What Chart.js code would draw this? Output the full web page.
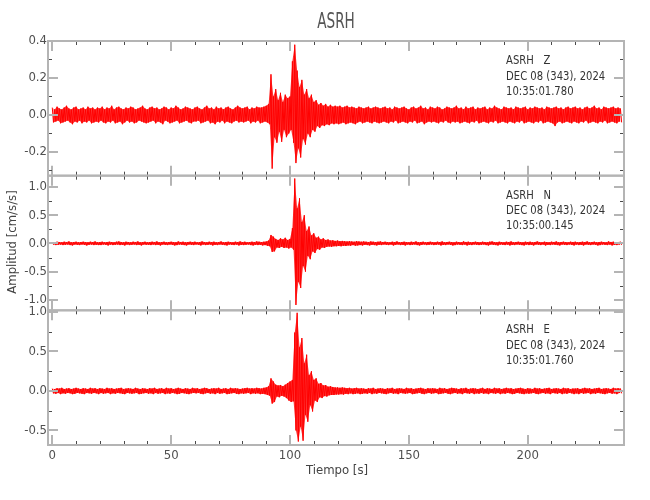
<!DOCTYPE html>
<html><head><meta charset="utf-8">
<script src="https://cdn.jsdelivr.net/npm/chart.js@4"></script>
<style>html,body{margin:0;padding:0;background:#fff}</style>
</head><body>
<canvas id="c" width="650" height="500"></canvas>
<script>
const stationName = 'ASRH';
const components = ['Z', 'N', 'E'];
const dateLabel = 'DEC 08 (343), 2024';
const startTimes = ['10:35:01.780', '10:35:00.145', '10:35:01.760'];
const xTitle = 'Tiempo [s]';
const yTitle = 'Amplitud [cm/s/s]';
const timeRange = [-1.8, 240.5];
const xMajorTicks = [0, 50, 100, 150, 200];
const xMinorTicks = [10,20,30,40,60,70,80,90,110,120,130,140,160,170,180,190,210,220,230,240];
const zRange = [-0.328, 0.4], nRange = [-1.185, 1.2], eRange = [-0.684, 1.021];
const zTicks = [-0.2, 0, 0.2, 0.4], zMinor = [-0.3, -0.1, 0.1, 0.3];
const nTicks = [-1, -0.5, 0, 0.5, 1], nMinor = [-0.75, -0.25, 0.25, 0.75];
const eTicks = [-0.5, 0, 0.5, 1], eMinor = [-0.25, 0.25, 0.75];
const sampleStep = 1; // seconds between successive peak/trough pairs

// Z component: upper and lower envelope per second
const zHi = [
.04,.03,.045,.035,.03,.04,.05,.035,.03,.04,.045,.03,.035,.04,.03,.045,.035,.04,.03,.04,
.035,.045,.03,.04,.035,.05,.03,.04,.045,.035,.03,.04,.035,.045,.04,.03,.035,.04,.05,.035,
.03,.04,.045,.035,.04,.03,.035,.045,.04,.03,.04,.035,.05,.04,.03,.035,.045,.04,.035,.03,
.04,.045,.035,.03,.04,.05,.035,.04,.03,.045,.035,.04,.03,.04,.045,.035,.03,.04,.05,.04,
.035,.04,.045,.03,.04,.035,.045,.04,.04,.045,.05,.06,.22,.10,.14,.08,.12,.07,.11,.09,
.10,.29,.38,.24,.15,.19,.11,.14,.09,.11,.07,.08,.055,.065,.05,.06,.045,.055,.045,.05,
.045,.05,.04,.045,.05,.04,.045,.04,.035,.045,.04,.035,.04,.045,.035,.04,.045,.04,.035,.04,
.045,.035,.04,.03,.045,.04,.035,.04,.045,.035,.03,.04,.045,.035,.04,.05,.035,.04,.03,.045,
.04,.035,.045,.04,.03,.035,.045,.04,.035,.04,.05,.035,.04,.03,.045,.035,.04,.045,.03,.04,
.035,.04,.045,.03,.04,.035,.05,.04,.035,.03,.045,.04,.035,.04,.03,.045,.04,.035,.04,.045,
.03,.04,.035,.045,.04,.035,.04,.03,.045,.04,.035,.04,.045,.035,.04,.03,.04,.045,.035,.04,
.045,.035,.04,.03,.04,.045,.035,.04,.05,.035,.04,.03,.045,.04,.035,.04,.045,.035,.04,.035];
const zLo = [
-.04,-.035,-.03,-.045,-.04,-.035,-.03,-.04,-.05,-.035,-.04,-.03,-.045,-.035,-.04,-.03,-.045,-.04,-.035,-.04,
-.03,-.04,-.045,-.035,-.04,-.03,-.045,-.04,-.035,-.05,-.04,-.03,-.04,-.035,-.045,-.04,-.03,-.035,-.04,-.045,
-.04,-.035,-.03,-.045,-.035,-.04,-.05,-.03,-.035,-.045,-.04,-.035,-.03,-.045,-.04,-.035,-.03,-.04,-.045,-.035,
-.035,-.03,-.045,-.04,-.035,-.03,-.045,-.04,-.05,-.035,-.04,-.03,-.045,-.035,-.04,-.045,-.035,-.03,-.04,-.035,
-.04,-.035,-.03,-.045,-.035,-.04,-.03,-.045,-.04,-.035,-.04,-.05,-.29,-.12,-.15,-.09,-.145,-.08,-.12,-.10,
-.08,-.15,-.26,-.18,-.23,-.13,-.16,-.10,-.12,-.08,-.09,-.06,-.07,-.055,-.06,-.05,-.055,-.045,-.05,-.045,
-.05,-.045,-.04,-.05,-.045,-.04,-.045,-.05,-.04,-.035,-.045,-.04,-.035,-.04,-.045,-.035,-.04,-.045,-.04,-.035,
-.04,-.045,-.035,-.04,-.03,-.045,-.04,-.035,-.04,-.045,-.035,-.04,-.03,-.045,-.04,-.035,-.05,-.04,-.035,-.04,
-.035,-.04,-.045,-.035,-.04,-.03,-.04,-.045,-.035,-.04,-.035,-.045,-.04,-.035,-.04,-.045,-.035,-.04,-.03,-.045,
-.04,-.035,-.04,-.045,-.035,-.04,-.03,-.045,-.04,-.035,-.04,-.045,-.035,-.04,-.045,-.035,-.04,-.03,-.045,-.04,
-.035,-.04,-.045,-.035,-.04,-.03,-.045,-.04,-.035,-.04,-.045,-.06,-.04,-.035,-.045,-.04,-.035,-.04,-.045,-.035,
-.04,-.045,-.035,-.04,-.03,-.045,-.04,-.035,-.04,-.045,-.035,-.04,-.03,-.045,-.04,-.035,-.04,-.045,-.035,-.04];

// N component
const nHi = [
.025,.02,.03,.025,.02,.03,.025,.035,.02,.025,.03,.02,.025,.03,.025,.02,.03,.025,.035,.02,
.025,.03,.02,.025,.03,.025,.02,.03,.035,.025,.02,.03,.025,.02,.03,.025,.035,.02,.025,.03,
.02,.025,.03,.025,.035,.02,.025,.03,.02,.025,.03,.025,.02,.035,.025,.03,.02,.025,.03,.025,
.03,.02,.025,.035,.025,.02,.03,.025,.03,.02,.025,.035,.02,.025,.03,.025,.02,.03,.025,.035,
.025,.03,.02,.025,.03,.025,.035,.03,.025,.03,.035,.05,.15,.12,.08,.06,.09,.07,.10,.06,
.08,.27,1.15,.62,.80,.38,.50,.22,.30,.14,.18,.10,.12,.07,.09,.06,.07,.05,.055,.045,
.05,.04,.045,.04,.035,.04,.035,.03,.04,.035,.03,.035,.03,.025,.035,.03,.025,.03,.035,.025,
.03,.025,.02,.03,.025,.035,.02,.025,.03,.025,.02,.03,.025,.035,.02,.025,.03,.02,.025,.03,
.025,.02,.03,.025,.035,.02,.025,.03,.025,.02,.03,.025,.02,.035,.025,.03,.02,.025,.03,.025,
.02,.03,.025,.02,.03,.035,.025,.02,.03,.025,.02,.03,.025,.035,.02,.025,.03,.025,.02,.03,
.025,.03,.02,.025,.035,.025,.02,.03,.025,.02,.03,.025,.035,.02,.025,.03,.025,.02,.03,.025,
.03,.02,.025,.03,.025,.035,.02,.025,.03,.02,.025,.03,.025,.02,.035,.025,.03,.02,.025,.03];
const nLo = [
-.02,-.03,-.025,-.02,-.03,-.025,-.02,-.03,-.035,-.02,-.025,-.03,-.02,-.025,-.035,-.025,-.02,-.03,-.025,-.03,
-.03,-.02,-.025,-.035,-.02,-.03,-.025,-.02,-.03,-.025,-.035,-.02,-.03,-.025,-.02,-.03,-.025,-.035,-.02,-.025,
-.025,-.03,-.02,-.03,-.025,-.035,-.02,-.025,-.03,-.02,-.025,-.035,-.03,-.02,-.025,-.03,-.035,-.02,-.025,-.03,
-.02,-.025,-.035,-.02,-.03,-.025,-.02,-.035,-.025,-.03,-.02,-.025,-.03,-.035,-.02,-.025,-.03,-.02,-.035,-.025,
-.03,-.025,-.02,-.03,-.035,-.025,-.03,-.025,-.035,-.03,-.04,-.05,-.15,-.14,-.07,-.08,-.06,-.08,-.07,-.09,
-.07,-.11,-1.09,-.68,-.79,-.40,-.50,-.22,-.28,-.14,-.17,-.10,-.11,-.07,-.08,-.06,-.055,-.06,-.05,-.05,
-.045,-.05,-.04,-.045,-.035,-.04,-.03,-.04,-.035,-.03,-.035,-.025,-.03,-.035,-.025,-.03,-.035,-.025,-.03,-.02,
-.025,-.03,-.02,-.035,-.025,-.02,-.03,-.025,-.035,-.02,-.03,-.025,-.02,-.03,-.035,-.025,-.02,-.03,-.025,-.02,
-.03,-.025,-.02,-.035,-.025,-.03,-.02,-.025,-.035,-.03,-.02,-.025,-.03,-.02,-.035,-.025,-.03,-.02,-.025,-.03,
-.025,-.02,-.03,-.035,-.02,-.025,-.03,-.035,-.02,-.025,-.03,-.02,-.035,-.025,-.03,-.02,-.025,-.03,-.035,-.02,
-.03,-.025,-.035,-.02,-.025,-.03,-.02,-.035,-.025,-.03,-.02,-.025,-.03,-.035,-.02,-.025,-.03,-.02,-.025,-.035,
-.02,-.03,-.025,-.035,-.02,-.025,-.03,-.02,-.025,-.035,-.03,-.02,-.025,-.03,-.02,-.035,-.025,-.03,-.02,-.025];

// E component
const eHi = [
.03,.025,.035,.03,.04,.025,.03,.035,.025,.03,.04,.03,.025,.035,.03,.025,.04,.03,.035,.025,
.035,.03,.025,.04,.03,.035,.025,.03,.035,.04,.025,.03,.035,.03,.025,.04,.03,.025,.035,.03,
.025,.035,.03,.04,.025,.03,.035,.025,.04,.03,.035,.025,.03,.04,.03,.025,.035,.03,.025,.04,
.03,.035,.025,.03,.04,.035,.025,.03,.035,.03,.04,.025,.03,.035,.025,.04,.03,.035,.03,.025,
.03,.035,.04,.03,.035,.03,.04,.035,.03,.04,.045,.06,.16,.12,.08,.07,.076,.06,.08,.10,
.12,.14,.74,.99,.55,.67,.35,.46,.20,.25,.14,.16,.09,.10,.07,.075,.055,.06,.05,.045,
.045,.04,.045,.04,.035,.04,.03,.035,.04,.03,.035,.03,.025,.035,.03,.04,.025,.03,.035,.03,
.025,.035,.03,.04,.025,.03,.035,.03,.025,.04,.03,.035,.025,.03,.035,.04,.03,.025,.035,.03,
.035,.03,.025,.04,.03,.035,.025,.03,.04,.035,.03,.025,.035,.03,.04,.025,.03,.035,.03,.025,
.03,.04,.025,.035,.03,.025,.04,.03,.035,.025,.03,.04,.03,.035,.025,.03,.035,.04,.03,.025,
.035,.03,.025,.04,.03,.035,.025,.03,.035,.04,.025,.03,.035,.03,.025,.04,.03,.035,.025,.03,
.03,.035,.025,.03,.04,.03,.035,.025,.03,.035,.04,.025,.03,.035,.03,.025,.04,.03,.035,.03];
const eLo = [
-.03,-.035,-.025,-.04,-.03,-.035,-.025,-.03,-.04,-.035,-.025,-.03,-.035,-.04,-.025,-.03,-.035,-.025,-.03,-.04,
-.025,-.035,-.03,-.025,-.04,-.03,-.035,-.025,-.03,-.035,-.04,-.025,-.03,-.035,-.03,-.025,-.04,-.035,-.03,-.025,
-.035,-.03,-.04,-.025,-.035,-.03,-.025,-.04,-.03,-.035,-.025,-.03,-.04,-.035,-.025,-.03,-.035,-.04,-.03,-.025,
-.03,-.025,-.035,-.04,-.03,-.025,-.035,-.03,-.04,-.025,-.035,-.03,-.025,-.04,-.035,-.03,-.025,-.035,-.04,-.03,
-.035,-.03,-.025,-.04,-.03,-.035,-.03,-.04,-.035,-.04,-.05,-.06,-.16,-.14,-.07,-.08,-.06,-.07,-.09,-.12,
-.14,-.13,-.50,-.64,-.45,-.63,-.30,-.39,-.18,-.26,-.12,-.14,-.08,-.09,-.065,-.07,-.055,-.05,-.05,-.045,
-.045,-.04,-.045,-.035,-.04,-.03,-.04,-.035,-.03,-.04,-.035,-.03,-.035,-.025,-.04,-.03,-.035,-.025,-.03,-.035,
-.04,-.03,-.025,-.035,-.03,-.04,-.025,-.03,-.035,-.03,-.025,-.04,-.035,-.03,-.025,-.035,-.04,-.03,-.025,-.035,
-.03,-.025,-.04,-.035,-.03,-.025,-.035,-.04,-.03,-.025,-.035,-.03,-.04,-.025,-.03,-.035,-.025,-.04,-.03,-.035,
-.025,-.035,-.03,-.04,-.025,-.03,-.035,-.025,-.04,-.03,-.035,-.025,-.03,-.04,-.035,-.025,-.03,-.035,-.04,-.03,
-.035,-.03,-.025,-.035,-.04,-.03,-.025,-.035,-.03,-.04,-.025,-.03,-.035,-.025,-.04,-.03,-.035,-.025,-.03,-.04,
-.03,-.04,-.025,-.035,-.03,-.025,-.04,-.03,-.035,-.025,-.03,-.035,-.04,-.03,-.025,-.035,-.03,-.04,-.025,-.03];

const FONT = '"Liberation Sans Narrow", "DejaVu Sans Condensed", "Arial Narrow", sans-serif';
const AXIS = '#b4b4b4', MINOR = '#4a4a4a', TXT = '#505050';

function buildTrace(hi, lo) {
  const pts = [];
  for (let i = 0; i < hi.length; i++) {
    pts.push({x: i * sampleStep, y: hi[i]});
    pts.push({x: i * sampleStep + sampleStep / 2, y: lo[i]});
  }
  return pts;
}
const buildUpper = hi => hi.map((v, i) => ({x: i * sampleStep, y: v}));
const buildLower = lo => lo.map((v, i) => ({x: i * sampleStep + sampleStep / 2, y: v}));

const panels = [
  {id: 'yZ', range: zRange, ticks: zTicks, minor: zMinor, hi: zHi, lo: zLo, weight: 3},
  {id: 'yN', range: nRange, ticks: nTicks, minor: nMinor, hi: nHi, lo: nLo, weight: 2},
  {id: 'yE', range: eRange, ticks: eTicks, minor: eMinor, hi: eHi, lo: eLo, weight: 1}
];

const scales = {
  x: {
    type: 'linear', position: 'bottom', min: timeRange[0], max: timeRange[1],
    grid: {display: false, drawTicks: false}, border: {display: false},
    afterBuildTicks: s => { s.ticks = xMajorTicks.map(v => ({value: v})); },
    afterFit: s => { s.height = 55; },
    ticks: {autoSkip: false, maxRotation: 0, padding: 3, color: TXT, font: {family: FONT, size: 13},
            callback: v => String(v)}
  }
};
panels.forEach(p => {
  scales[p.id] = {
    type: 'linear', position: 'left', stack: 'panels', stackWeight: 1, weight: p.weight,
    min: p.range[0], max: p.range[1],
    grid: {display: false, drawTicks: false}, border: {display: false},
    afterBuildTicks: s => { s.ticks = p.ticks.map(v => ({value: v})); },
    afterFit: s => { s.width = 48; },
    ticks: {autoSkip: false, padding: 1, color: TXT, font: {family: FONT, size: 13},
            callback: v => Number(v).toFixed(1)}
  };
});

const framePlugin = {
  id: 'frames',
  afterDraw(chart) {
    const ctx = chart.ctx, xs = chart.scales.x;
    const left = chart.chartArea.left, right = chart.chartArea.right;
    ctx.save();
    panels.forEach((p, i) => {
      const ys = chart.scales[p.id];
      const top = ys.top, bottom = ys.bottom;
      const xt = (v, len, major) => {
        const px = Math.round(xs.getPixelForValue(v)) + (major ? 0 : 0.5);
        ctx.beginPath();
        ctx.moveTo(px, bottom); ctx.lineTo(px, bottom - len);
        ctx.moveTo(px, top); ctx.lineTo(px, top + len);
        ctx.stroke();
      };
      ctx.strokeStyle = MINOR; ctx.lineWidth = 1;
      xMinorTicks.forEach(v => xt(v, 4, false));
      ctx.strokeStyle = AXIS; ctx.lineWidth = 2;
      xMajorTicks.forEach(v => xt(v, 10, true));
      const yt = (v, len, major) => {
        const py = Math.round(ys.getPixelForValue(v)) + (major ? 0 : 0.5);
        ctx.beginPath();
        ctx.moveTo(left, py); ctx.lineTo(left + len, py);
        ctx.moveTo(right, py); ctx.lineTo(right - len, py);
        ctx.stroke();
      };
      ctx.strokeStyle = MINOR; ctx.lineWidth = 1;
      p.minor.forEach(v => yt(v, 4, false));
      ctx.strokeStyle = AXIS; ctx.lineWidth = 2;
      p.ticks.forEach(v => yt(v, 10, true));
      ctx.strokeRect(left, top, right - left, bottom - top);
      // station annotation
      ctx.fillStyle = '#333';
      ctx.font = '12px ' + FONT;
      ctx.textAlign = 'left'; ctx.textBaseline = 'middle';
      const tx = xs.getPixelForValue(190.9);
      const lines = [stationName + '   ' + components[i], dateLabel, startTimes[i]];
      const offs = [20, 35.5, 50.5];
      lines.forEach((s, k) => {
        ctx.save();
        ctx.translate(tx, top + offs[k]);
        ctx.scale(0.93, 1);
        ctx.fillText(s, 0, 0);
        ctx.restore();
      });
    });
    ctx.fillStyle = '#555';
    ctx.textAlign = 'center'; ctx.textBaseline = 'middle';
    ctx.save();
    ctx.translate((left + right) / 2, 23);
    ctx.scale(0.72, 1);
    ctx.font = '21px ' + FONT;
    ctx.fillText(stationName, 0, 0);
    ctx.restore();
    ctx.fillStyle = '#444';
    ctx.font = '13px ' + FONT;
    ctx.fillText(xTitle, (left + right) / 2 + 1, 471);
    ctx.save();
    const yN = chart.scales.yN;
    ctx.translate(13, (yN.top + yN.bottom) / 2 - 1);
    ctx.rotate(-Math.PI / 2);
    ctx.fillText(yTitle, 0, 0);
    ctx.restore();
    ctx.restore();
  }
};

const datasets = [];
panels.forEach((p, i) => {
  datasets.push({
    label: components[i], data: buildTrace(p.hi, p.lo), yAxisID: p.id, xAxisID: 'x',
    borderColor: '#ff0000', borderWidth: 1, pointRadius: 0, tension: 0, fill: false
  });
  datasets.push({
    label: components[i] + ' upper', data: buildUpper(p.hi), yAxisID: p.id, xAxisID: 'x',
    borderColor: 'rgba(255,0,0,0)', borderWidth: 0, pointRadius: 0, tension: 0,
    fill: '+1', backgroundColor: 'rgba(255,0,0,0.8)'
  });
  datasets.push({
    label: components[i] + ' lower', data: buildLower(p.lo), yAxisID: p.id, xAxisID: 'x',
    borderColor: 'rgba(255,0,0,0)', borderWidth: 0, pointRadius: 0, tension: 0, fill: false
  });
});

new Chart(document.getElementById('c'), {
  type: 'line',
  data: {datasets},
  options: {
    responsive: false, animation: false, devicePixelRatio: 1,
    layout: {padding: {left: 0, right: 26, top: 41, bottom: 0}},
    plugins: {legend: {display: false}, tooltip: {enabled: false}, title: {display: false},
              filler: {propagate: false}},
    scales: scales
  },
  plugins: [framePlugin]
});
</script>
</body></html>
